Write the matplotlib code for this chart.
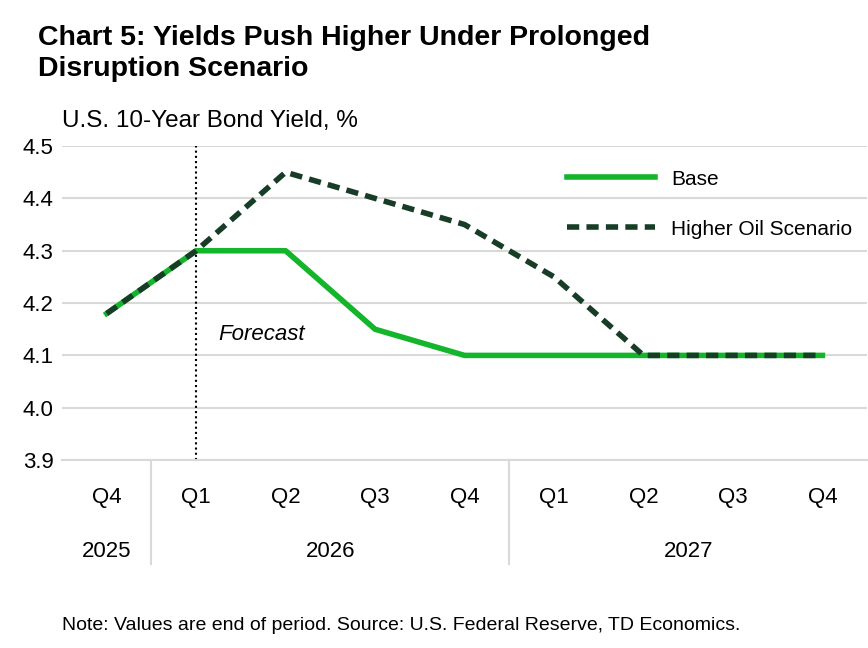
import matplotlib
matplotlib.use("Agg")
import matplotlib.pyplot as plt

quarters = ["Q4", "Q1", "Q2", "Q3", "Q4", "Q1", "Q2", "Q3", "Q4"]
years = ["2025", "2026", "2027"]
year_spans = [(0, 0), (1, 4), (5, 8)]
base = [4.18, 4.30, 4.30, 4.15, 4.10, 4.10, 4.10, 4.10, 4.10]
higher_oil = [4.18, 4.30, 4.45, 4.40, 4.35, 4.25, 4.10, 4.10, 4.10]

plt.rcParams['font.family'] = ['Liberation Sans', 'DejaVu Sans']
fig = plt.figure(figsize=(8.68, 6.48), dpi=100)
ax = fig.add_axes([0.0714, 0.290, 0.9276, 0.4846])
x = list(range(len(quarters)))
green = "#13b52a"
dark = "#173d27"
ax.plot(x, base, color=green, lw=4, label="Base", zorder=3)
ax.plot(x, higher_oil, color=dark, lw=4, ls=(0, (2.2, 1.3)), label="Higher Oil Scenario", zorder=4)
ax.set_xlim(-0.5, 8.5)
ax.set_ylim(3.9, 4.5)
ax.set_yticks([3.9, 4.0, 4.1, 4.2, 4.3, 4.4, 4.5])
ax.set_yticklabels(["3.9", "4.0", "4.1", "4.2", "4.3", "4.4", "4.5"], fontsize=16)
ax.yaxis.grid(True, color="#d9d9d9", lw=1.5)
ax.set_axisbelow(True)
for s in ["top", "right", "left"]:
    ax.spines[s].set_visible(False)
ax.spines["bottom"].set_color("#d9d9d9")
ax.spines["bottom"].set_linewidth(1.5)
ax.tick_params(axis="y", length=0, pad=6)
ax.set_xticks(x)
ax.set_xticklabels([])
ax.tick_params(axis="x", length=0)
ax.axvline(1, color="black", ls=(0, (1, 1.5)), lw=1.5, zorder=2)
ax.text(1.25, 4.13, "Forecast", style="italic", fontsize=16)

tr = ax.get_xaxis_transform()
for i, q in enumerate(quarters):
    ax.text(i, -0.12, q, transform=tr, ha="center", va="center", fontsize=16)
for (a, b), y in zip(year_spans, years):
    ax.text((a + b) / 2, -0.29, y, transform=tr, ha="center", va="center", fontsize=16)
for xs in [0.5, 4.5]:
    ax.plot([xs, xs], [0, -0.33], transform=tr, color="#d9d9d9", lw=1.5, clip_on=False)

ax.legend(loc="upper right", bbox_to_anchor=(1.005, 0.985), frameon=False, fontsize=15,
          handlelength=4.2, labelspacing=1.5, handletextpad=0.8)

fig.text(0.044, 0.962, "Chart 5: Yields Push Higher Under Prolonged\nDisruption Scenario",
         fontsize=20.5, fontweight="bold", va="top", linespacing=1.25)
fig.text(0.0714, 0.813, "U.S. 10-Year Bond Yield, %", fontsize=17.5, va="center")
fig.text(0.071, 0.035, "Note: Values are end of period. Source: U.S. Federal Reserve, TD Economics.",
         fontsize=14, va="center")
fig.savefig("out.png", dpi=100)
